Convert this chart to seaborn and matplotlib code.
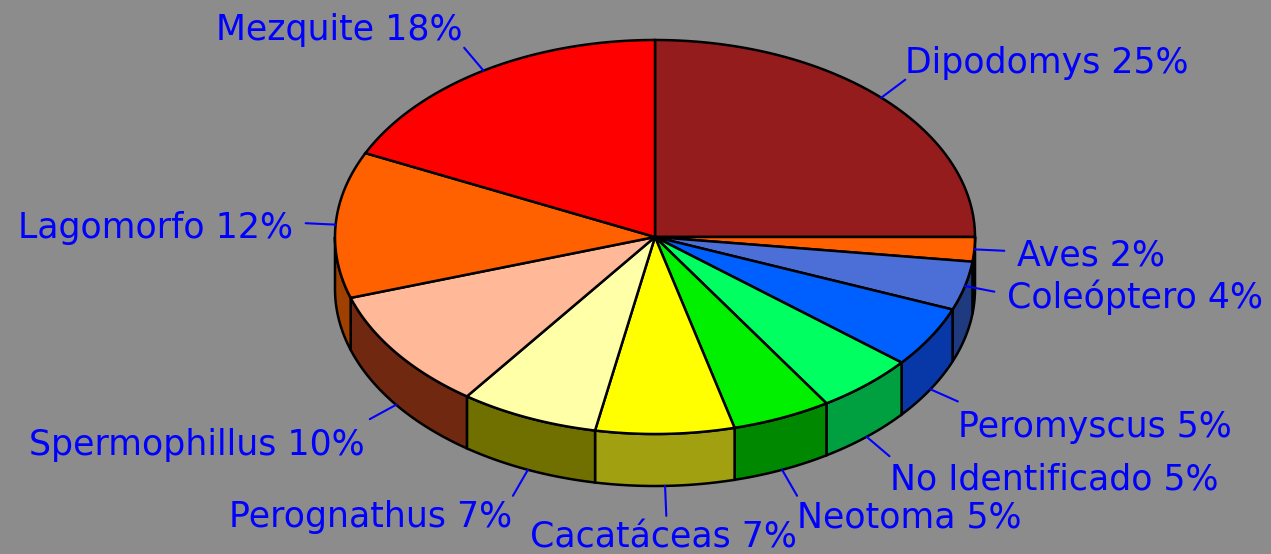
import numpy as np
import matplotlib
matplotlib.use("Agg")
import matplotlib.pyplot as plt
from matplotlib.patches import Polygon
import seaborn as sns

# ---- data ----
categories = ["Dipodomys", "Aves", "Coleóptero", "Peromyscus", "No Identificado",
              "Neotoma", "Cacatáceas", "Perognathus", "Spermophillus", "Lagomorfo", "Mezquite"]
values = [25, 2, 4, 5, 5, 5, 7, 7, 10, 12, 18]
labels = [f"{c} {v}%" for c, v in zip(categories, values)]

# ---- styles ----
top_colors = ["#951c1c", "#ff6000", "#4b6fd6", "#0060ff", "#00ff60",
              "#00f000", "#ffff00", "#ffffa8", "#ffb898", "#ff6000", "#ff0000"]
side_colors = ["#5a1010", "#7a3000", "#203a80", "#0838a8", "#00a040",
               "#008800", "#a0a010", "#707000", "#702810", "#a04000", "#900000"]
# text layout (x, baseline y, ha)
label_pos = [(905, 73, "left"), (1017, 265, "left"), (1007, 308, "left"),
             (958, 437, "left"), (890, 490, "left"), (797, 527, "left"),
             (530, 547, "left"), (512, 527, "right"), (365, 455, "right"),
             (293, 238, "right"), (462, 40, "right")]

sns.set_theme(style="white")
plt.rcParams["font.family"] = ["DejaVu Sans"]

W, H = 1271, 554
fig = plt.figure(figsize=(W / 100, H / 100), dpi=100)
fig.patch.set_facecolor("#8c8c8c")
ax = fig.add_axes([0, 0, 1, 1])
ax.set_facecolor("#8c8c8c")
ax.set_xlim(0, W)
ax.set_ylim(H, 0)
ax.axis("off")

cx, cy, rx, ry, depth = 655, 237, 320, 197, 52


def pt(t, dz=0.0):
    r = np.radians(t)
    return cx + rx * np.cos(r), cy - ry * np.sin(r) + dz


total = float(sum(values))
starts, ends = [], []
a = 90.0
for v in values:
    b = a - 360.0 * v / total
    starts.append(a)
    ends.append(b)
    a = b

# side faces (front half only: angles between -180 and 0)
for s, e, sc in zip(starts, ends, side_colors):
    for off in (0, -360):
        hi = min(s + off, 0.0)
        lo = max(e + off, -180.0)
        if hi <= lo:
            continue
        ts = np.linspace(hi, lo, 60)
        top = [pt(t) for t in ts]
        bot = [pt(t, depth) for t in ts[::-1]]
        ax.add_patch(Polygon(top + bot, closed=True, facecolor=sc,
                             edgecolor="black", linewidth=1.8, zorder=2))

# top faces
for s, e, tc in zip(starts, ends, top_colors):
    ts = np.linspace(s, e, 120)
    poly = [(cx, cy)] + [pt(t) for t in ts]
    ax.add_patch(Polygon(poly, closed=True, facecolor=tc,
                         edgecolor="black", linewidth=1.8, zorder=3))

# leaders and labels
for s, e, lab, (lx, ly, ha) in zip(starts, ends, labels, label_pos):
    m = (s + e) / 2.0
    dz = depth if np.sin(np.radians(m)) < np.sin(np.radians(-20)) else 0.0
    x0, y0 = pt(m, dz)
    dx, dy = np.cos(np.radians(m)), -np.sin(np.radians(m)) * 0.75
    n = np.hypot(dx, dy)
    x1, y1 = x0 + 30 * dx / n, y0 + 30 * dy / n
    ax.plot([x0, x1], [y0, y1], color="#0000ff", linewidth=1.5, zorder=4)
    ax.text(lx, ly, lab, ha=ha, va="baseline", color="#0000ff",
            fontsize=25, zorder=5)

fig.savefig("out.png", dpi=100, facecolor=fig.get_facecolor())
